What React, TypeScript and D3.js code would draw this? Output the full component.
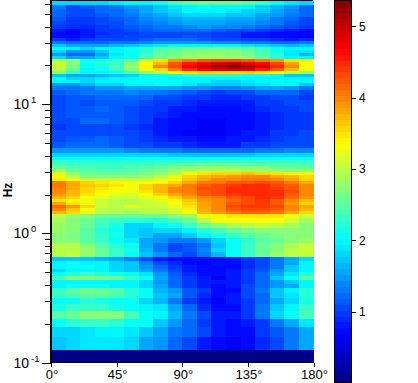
import React from "react";
import * as d3 from "d3";

const rowEdgesHz = [63.1,58.7,54.7,50.9,47.4,44.1,41.1,38.3,36.3,34.4,32.6,30.9,29.3,27.8,26.3,24.9,23.6,22.4,21.2,20.1,19.1,18.1,17.1,16.2,15.4,14.6,13.8,12.9,11.8,10.8,9.7,8.7,7.8,7.0,6.3,5.7,5.1,4.6,4.2,3.91,3.71,3.52,3.33,3.16,3.0,2.84,2.69,2.55,2.42,2.29,2.17,2.06,1.95,1.85,1.75,1.66,1.575,1.49,1.41,1.32,1.204,1.10,1.006,0.921,0.843,0.77,0.717,0.656,0.611,0.569,0.53,0.502,0.468,0.4355,0.4055,0.378,0.345,0.316,0.2835,0.2506,0.217,0.188,0.1576,0.125,0.1];
const angleEdges = d3.range(0, 181, 10);
const xTicks = [0, 45, 90, 135, 180];
const barTicks = [1, 2, 3, 4, 5];
const majorHz = [0.1, 1, 10];
const majorExp = ["-1", "0", "1"];

const power: number[][] = [
[1.8,1.8,1.8,1.85,1.9,1.95,2.0,2.1,2.3,2.5,2.6,2.6,2.6,2.5,2.3,2.1,1.9,1.8],
[1.3,1.1,1.15,1.25,1.3,1.45,1.6,1.75,1.9,2.0,2.05,2.0,2.0,1.95,1.8,1.65,1.45,1.25],
[1.25,1.05,1.1,1.2,1.25,1.4,1.55,1.7,1.85,1.95,1.95,1.95,1.9,1.85,1.7,1.55,1.4,1.2],
[1.2,1.05,1.05,1.15,1.2,1.3,1.45,1.6,1.75,1.8,1.8,1.8,1.75,1.7,1.6,1.45,1.3,1.2],
[1.15,1.0,1.0,1.1,1.15,1.25,1.4,1.5,1.6,1.65,1.65,1.65,1.6,1.55,1.5,1.35,1.25,1.1],
[1.1,.95,.95,1.05,1.1,1.2,1.3,1.4,1.5,1.55,1.55,1.55,1.5,1.5,1.4,1.3,1.15,1.05],
[1.0,.9,.9,1.0,1.05,1.15,1.25,1.3,1.35,1.4,1.45,1.4,1.4,1.35,1.25,1.15,1.05,.95],
[.8,.75,.85,.95,1.0,1.05,1.15,1.2,1.2,1.25,1.2,1.15,1.1,1.05,1.0,.9,.85,.75],
[.7,.65,.8,.9,.95,1.0,1.05,1.1,1.1,1.1,1.05,1.0,.95,.85,.8,.75,.7,.7],
[.75,.7,.85,.95,1.0,1.05,1.05,1.1,1.1,1.15,1.05,1.0,.95,.85,.8,.75,.7,.7],
[.95,.85,1.0,1.05,1.1,1.1,1.15,1.2,1.2,1.25,1.15,1.1,1.05,1.0,.95,.9,.85,.9],
[1.3,1.2,1.2,1.25,1.3,1.35,1.4,1.45,1.5,1.5,1.45,1.4,1.4,1.35,1.3,1.25,1.2,1.3],
[1.75,1.6,1.55,1.6,1.65,1.75,1.8,1.9,1.95,2.0,2.0,2.0,1.95,1.9,1.85,1.75,1.65,1.7],
[2.1,1.95,1.85,1.95,2.0,2.1,2.2,2.4,2.5,2.55,2.6,2.6,2.55,2.45,2.3,2.1,1.95,2.0],
[1.8,1.5,1.5,1.75,1.95,2.05,2.25,2.45,2.6,2.7,2.75,2.75,2.7,2.6,2.4,2.15,1.9,1.9],
[1.45,1.25,1.25,1.55,1.9,2.05,2.3,2.55,2.65,2.75,2.8,2.8,2.75,2.65,2.45,2.2,1.9,1.65],
[1.85,1.6,1.55,1.75,2.0,2.1,2.35,2.6,2.7,2.8,2.85,2.85,2.8,2.7,2.5,2.25,2.0,1.95],
[3.0,2.7,2.15,2.15,2.3,2.6,3.2,3.5,3.9,4.1,4.25,4.35,4.35,4.25,4.1,3.9,3.5,3.3],
[3.1,2.75,2.1,2.2,2.35,2.75,3.3,3.7,4.25,4.55,4.75,4.9,4.95,4.85,4.65,4.3,3.8,3.35],
[3.05,2.65,2.05,2.15,2.4,2.85,3.4,3.95,4.35,4.7,4.95,5.15,5.3,5.15,4.9,4.5,3.95,3.4],
[3.0,2.6,2.0,2.1,2.3,2.7,3.3,3.6,4.1,4.5,4.7,4.9,5.0,4.9,4.6,4.2,3.7,3.3],
[2.7,2.35,1.95,2.0,2.15,2.4,2.7,2.9,3.3,3.45,3.55,3.6,3.6,3.55,3.45,3.3,3.0,2.8],
[1.7,1.55,1.55,1.65,1.75,1.85,1.95,2.05,2.1,2.2,2.25,2.25,2.2,2.1,2.05,1.95,1.75,1.7],
[2.05,1.85,1.8,1.9,1.95,2.0,2.05,2.05,2.0,2.0,2.0,1.95,1.95,1.95,1.95,1.95,1.95,1.95],
[1.95,1.95,1.85,1.95,2.0,2.05,2.05,2.1,2.05,2.0,1.95,1.85,1.85,1.9,1.95,2.05,2.0,1.95],
[1.45,1.5,1.65,1.85,1.85,1.95,2.0,2.05,2.0,1.9,1.75,1.7,1.75,1.85,1.9,2.0,1.95,1.7],
[1.35,1.3,1.35,1.45,1.5,1.55,1.6,1.6,1.55,1.5,1.45,1.4,1.4,1.45,1.55,1.55,1.5,1.35],
[1.15,1.25,1.3,1.35,1.35,1.4,1.35,1.3,1.25,1.15,1.1,1.0,1.05,1.1,1.2,1.25,1.2,1.1],
[1.05,1.15,1.15,1.2,1.25,1.25,1.2,1.1,1.05,.95,.95,.9,.9,.95,1.0,1.1,1.05,1.0],
[1.1,1.15,1.1,1.15,1.15,1.15,1.05,1.0,.95,.9,.85,.85,.85,.85,.95,1.0,1.05,1.05],
[1.1,1.15,1.15,1.2,1.15,1.1,1.0,.95,.85,.8,.75,.75,.75,.8,.9,.95,1.0,1.05],
[1.1,1.15,1.15,1.15,1.15,1.1,1.0,.9,.8,.75,.7,.7,.7,.75,.85,.9,1.0,1.0],
[1.05,1.1,1.2,1.2,1.15,1.1,.95,.85,.75,.7,.68,.68,.7,.72,.8,.9,.95,1.0],
[1.0,1.05,1.1,1.1,1.1,1.0,.9,.85,.75,.7,.65,.65,.7,.75,.8,.9,.95,1.0],
[1.05,1.1,1.1,1.1,1.1,1.05,.95,.85,.75,.68,.65,.68,.75,.8,.85,.95,1.0,1.05],
[1.1,1.15,1.15,1.2,1.15,1.1,1.0,.9,.85,.8,.72,.75,.8,.85,.9,1.0,1.05,1.1],
[1.15,1.2,1.2,1.2,1.15,1.1,1.05,1.0,.95,.9,.85,.8,.85,.95,1.0,1.05,1.1,1.1],
[1.45,1.45,1.45,1.45,1.45,1.4,1.35,1.3,1.3,1.25,1.2,1.2,1.2,1.25,1.3,1.35,1.4,1.4],
[1.85,1.85,1.85,1.85,1.85,1.85,1.85,1.8,1.75,1.75,1.75,1.7,1.75,1.75,1.8,1.8,1.8,1.85],
[2.05,2.05,2.05,2.05,2.05,2.05,2.05,2.05,2.05,2.05,2.05,2.05,2.05,2.05,2.05,2.05,2.05,2.05],
[2.3,2.25,2.2,2.2,2.2,2.2,2.2,2.25,2.25,2.3,2.3,2.3,2.3,2.3,2.3,2.3,2.35,2.35],
[2.4,2.35,2.3,2.3,2.3,2.3,2.35,2.4,2.45,2.5,2.55,2.6,2.55,2.5,2.5,2.45,2.45,2.4],
[2.6,2.5,2.4,2.35,2.35,2.4,2.45,2.55,2.65,2.7,2.75,2.8,2.75,2.7,2.7,2.6,2.6,2.6],
[2.85,2.6,2.5,2.45,2.45,2.5,2.55,2.65,2.8,2.9,3.0,3.0,3.0,2.95,2.9,2.8,2.75,2.8],
[3.2,2.8,2.6,2.6,2.55,2.55,2.65,2.75,2.9,3.4,3.45,3.55,3.6,3.65,3.6,3.5,3.4,3.3],
[3.4,3.0,2.75,2.75,2.7,2.7,2.85,3.0,3.2,3.6,3.75,3.85,3.9,3.95,3.95,3.85,3.7,3.55],
[3.4,3.3,3.1,3.1,3.1,3.05,3.1,3.25,3.4,3.65,3.8,3.95,4.0,4.05,4.05,3.95,3.8,3.6],
[4.1,3.8,3.6,3.5,3.4,3.3,3.3,3.35,3.6,3.85,4.05,4.1,4.2,4.25,4.3,4.2,4.05,3.8],
[4.05,3.85,3.65,3.55,3.45,3.35,3.55,3.7,3.85,4.05,4.2,4.3,4.4,4.45,4.45,4.35,4.2,3.95],
[3.95,3.8,3.6,3.5,3.4,3.3,3.55,3.75,3.95,4.1,4.3,4.35,4.45,4.5,4.5,4.4,4.25,3.95],
[3.95,3.75,3.55,3.4,3.35,3.3,3.5,3.7,3.95,4.1,4.25,4.35,4.5,4.5,4.5,4.45,4.3,4.0],
[3.9,3.7,3.5,3.35,3.25,3.15,3.35,3.6,3.85,4.0,4.2,4.3,4.4,4.45,4.5,4.45,4.25,3.95],
[3.7,3.6,3.35,3.2,3.1,3.05,3.2,3.35,3.6,3.85,4.0,4.1,4.2,4.35,4.45,4.4,4.15,3.9],
[3.45,3.4,3.25,3.1,3.0,3.0,3.1,3.2,3.4,3.65,3.9,4.0,4.15,4.3,4.4,4.25,4.0,3.75],
[3.85,3.45,3.3,3.05,2.95,3.0,3.05,3.1,3.3,3.55,3.85,3.95,4.2,4.3,4.4,4.25,3.9,3.6],
[4.15,3.9,3.55,3.1,3.0,3.2,3.1,3.1,3.25,3.5,3.85,3.95,4.3,4.4,4.4,4.35,4.0,3.8],
[3.95,3.65,3.3,3.0,3.0,2.95,3.0,3.0,3.15,3.4,3.8,3.95,4.2,4.3,4.3,4.25,4.0,3.75],
[3.7,3.6,3.25,3.0,2.9,2.85,2.95,3.0,3.05,3.3,3.7,3.9,4.1,4.15,4.15,4.1,3.85,3.6],
[3.0,2.8,2.7,2.6,2.6,2.55,2.6,2.6,2.7,2.85,3.3,3.4,3.45,3.5,3.5,3.45,3.3,3.05],
[2.9,2.75,2.6,2.4,2.3,2.2,2.2,2.2,2.4,2.6,3.0,3.3,3.3,3.3,3.3,3.35,3.15,2.9],
[2.85,2.7,2.55,2.3,2.15,1.85,1.85,2.0,2.05,2.3,2.6,2.75,2.9,3.0,3.05,3.0,2.9,2.75],
[2.8,2.7,2.5,2.25,2.1,1.8,1.7,1.8,1.85,2.0,2.25,2.4,2.6,2.65,2.7,2.7,2.7,2.7],
[2.75,2.65,2.45,2.3,2.15,1.85,1.75,1.6,1.55,1.7,2.0,2.15,2.3,2.45,2.55,2.65,2.7,2.75],
[2.75,2.7,2.5,2.35,2.1,1.9,1.6,1.45,1.3,1.3,1.45,1.85,2.1,2.25,2.45,2.6,2.75,2.85],
[2.95,2.95,2.75,2.45,2.2,2.1,1.6,1.3,1.1,1.15,1.35,1.7,2.05,2.3,2.55,2.7,2.9,3.05],
[2.95,3.0,2.8,2.55,2.3,2.15,1.65,1.3,1.1,1.15,1.4,1.8,2.1,2.35,2.55,2.75,2.95,3.1],
[3.0,3.05,2.8,2.6,2.35,2.1,1.7,1.45,1.2,1.1,1.35,1.65,2.05,2.35,2.55,2.8,3.0,3.1],
[1.75,1.75,1.75,1.65,1.55,1.3,1.05,.85,.75,.7,.7,.75,.85,.95,1.1,1.3,1.55,1.8],
[2.0,2.05,2.0,2.0,1.8,1.7,1.4,1.1,.9,.75,.65,.7,.75,.9,1.1,1.3,1.6,1.95],
[2.0,2.05,2.05,2.0,1.85,1.75,1.5,1.2,.95,.8,.7,.7,.75,.9,1.1,1.35,1.7,2.0],
[1.85,2.0,2.0,2.0,1.85,1.75,1.55,1.3,1.05,.85,.7,.7,.8,.95,1.15,1.45,1.75,2.0],
[2.05,2.25,2.3,2.25,2.15,2.05,1.9,1.5,1.15,.9,.75,.7,.8,.95,1.2,1.55,1.9,2.2],
[2.4,2.75,2.7,2.65,2.6,2.35,2.1,1.6,1.2,.95,.8,.65,.8,1.0,1.25,1.7,2.1,2.5],
[1.95,2.0,2.0,2.0,1.95,1.95,1.8,1.5,1.2,.95,.85,.8,.85,1.0,1.25,1.45,1.75,1.95],
[1.95,2.05,2.05,2.05,2.0,1.95,1.85,1.55,1.25,1.0,.8,.75,.85,1.05,1.2,1.5,1.6,2.0],
[2.35,2.5,2.65,2.55,2.45,2.2,2.05,1.65,1.5,1.15,.95,.75,.75,1.05,1.35,1.7,1.95,2.2],
[2.3,2.4,2.5,2.5,2.4,2.25,2.05,1.7,1.55,1.15,.9,.7,.8,1.05,1.25,1.7,1.9,2.2],
[2.05,2.1,2.2,2.15,2.1,2.1,1.85,1.65,1.35,1.0,.8,.68,.85,1.0,1.25,1.6,1.85,2.15],
[2.15,2.3,2.3,2.3,2.15,2.1,1.95,1.9,1.6,1.2,.9,.72,.75,1.0,1.3,1.75,2.0,2.35],
[2.45,2.55,2.75,2.75,2.7,2.4,2.1,2.0,1.65,1.3,1.1,.8,.85,1.0,1.35,1.8,2.05,2.4],
[2.05,2.2,2.35,2.35,2.25,2.1,2.05,1.75,1.5,1.2,1.0,.85,.7,.8,.95,1.3,1.6,1.9],
[1.8,1.85,1.9,2.0,1.95,1.9,1.75,1.6,1.35,1.25,1.05,.8,.7,.75,.95,1.15,1.35,1.6],
[1.75,1.85,1.9,1.9,1.9,1.8,1.55,1.45,1.25,1.05,.85,.7,.62,.7,.9,1.1,1.3,1.6],
[.05,.05,.05,.05,.05,.05,.05,.05,.05,.05,.05,.05,.05,.05,.05,.05,.05,.05],
];

const font = "'Liberation Sans', Arial, sans-serif";
const vMin = 0.02, vMax = 5.35;

const rampR = d3.scaleLinear([0.375, 0.625, 0.875, 1], [0, 1, 1, 0.5]).clamp(true);
const rampG = d3.scaleLinear([0.125, 0.375, 0.625, 0.875], [0, 1, 1, 0]).clamp(true);
const rampB = d3.scaleLinear([0, 0.125, 0.375, 0.625], [0.5, 1, 1, 0]).clamp(true);
const jet = d3.range(64).map((i) => {
  const t = (i + 0.5) / 64;
  return d3.rgb(rampR(t) * 255, rampG(t) * 255, rampB(t) * 255).formatHex();
});
const color = d3.scaleQuantize<string>().domain([vMin, vMax]).range(jet);

const x = d3.scaleLinear().domain([0, 180]).range([51, 313.5]);
const y = d3.scaleLog().domain([0.1, 63.1]).range([362.5, 1]);
const barY = d3.scaleLinear().domain([vMin, vMax]).range([382, 1]);
const barLevels = d3.range(64).map((i) => vMin + ((vMax - vMin) * i) / 64);

export default function App() {
  const left = x.range()[0];
  const bottom = y.range()[0];
  return (
    <svg
      width={418}
      height={383}
      style={{ position: "absolute", left: 0, top: 0, background: "#fff" }}
      fontFamily={font}
      fontSize={12.5}
    >
      <g shapeRendering="crispEdges">
        {power.map((row, r) =>
          row.map((v, c) => (
            <rect
              key={`${r}-${c}`}
              x={Math.round(x(angleEdges[c]))}
              width={Math.round(x(angleEdges[c + 1])) - Math.round(x(angleEdges[c]))}
              y={Math.round(y(rowEdgesHz[r]))}
              height={Math.round(y(rowEdgesHz[r + 1])) - Math.round(y(rowEdgesHz[r]))}
              fill={color(v)}
            />
          ))
        )}
        <line x1={left - 1} x2={313} y1={0.5} y2={0.5} stroke="#000" />
        <line x1={left - 0.5} x2={left - 0.5} y1={0} y2={bottom + 1} stroke="#000" strokeWidth={2} />
        <line x1={left - 1} x2={313} y1={362.5} y2={362.5} stroke="#000" strokeWidth={1} />
        {y.ticks().map((t) => {
          const major = majorHz.includes(t);
          return (
            <line
              key={t}
              x1={major ? 42 : 45}
              x2={50}
              y1={Math.round(y(t)) + 0.5}
              y2={Math.round(y(t)) + 0.5}
              stroke="#000"
            />
          );
        })}
        {xTicks.map((t) => (
          <line key={t} x1={Math.round(x(t))} x2={Math.round(x(t))} y1={363} y2={367} stroke="#000" />
        ))}
      </g>
      {majorHz.map((t) => (
        <text key={t} x={29} y={y(t) + 5} textAnchor="end" fontSize={14}>
          10
        </text>
      ))}
      {majorHz.map((t, i) => (
        <text key={t} x={31} y={y(t) - 1} fontSize={9.5}>
          {majorExp[i]}
        </text>
      ))}
      {xTicks.map((t) => (
        <text key={t} x={x(t) + 1} y={379} textAnchor="middle" fontSize={13}>
          {t}°
        </text>
      ))}
      <text transform="translate(12,190) rotate(-90)" textAnchor="middle" fontWeight="bold" fontSize={12}>
        Hz
      </text>
      <g shapeRendering="crispEdges">
        {barLevels.map((v, i) => (
          <rect
            key={i}
            x={334}
            width={18}
            y={Math.round(barY(v + (vMax - vMin) / 64))}
            height={Math.round(barY(v)) - Math.round(barY(v + (vMax - vMin) / 64))}
            fill={jet[i]}
          />
        ))}
        <rect x={334.5} y={0.5} width={17} height={381.5} fill="none" stroke="#000" />
        {barTicks.map((t) => (
          <line key={t} x1={352} x2={356} y1={Math.round(barY(t)) + 0.5} y2={Math.round(barY(t)) + 0.5} stroke="#000" />
        ))}
      </g>
      {barTicks.map((t) => (
        <text key={t} x={359} y={barY(t) + 4.5} fontSize={12}>
          {t}
        </text>
      ))}
    </svg>
  );
}
